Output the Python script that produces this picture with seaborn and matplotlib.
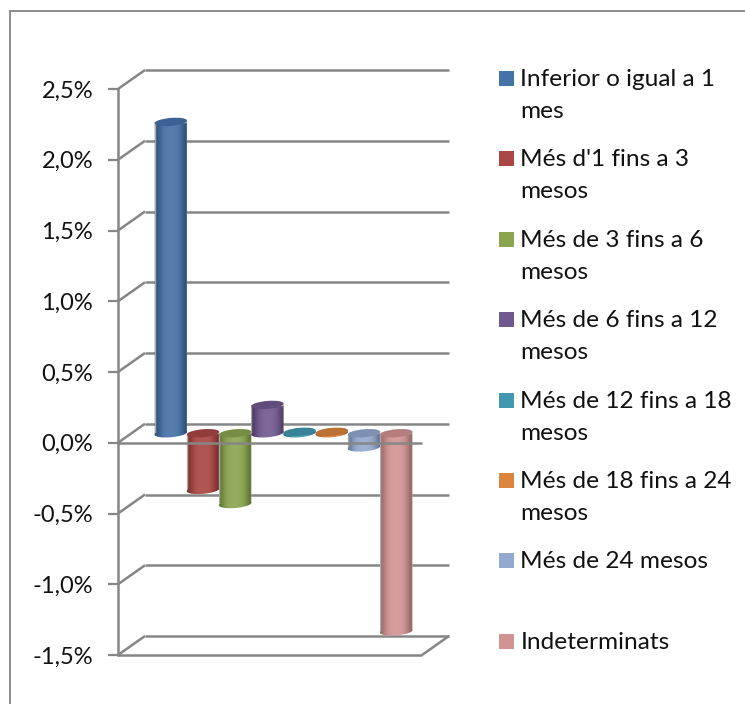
"""Cylinder chart, variation per term bucket (3D look built on a seaborn barplot)."""
import matplotlib
matplotlib.use("Agg")
import matplotlib.pyplot as plt
import numpy as np
import pandas as pd
import seaborn as sns
from matplotlib.collections import EllipseCollection
from matplotlib.lines import Line2D
from matplotlib.patches import PathPatch, Rectangle
from matplotlib.path import Path
from matplotlib.transforms import IdentityTransform, ScaledTranslation

categories = ["Inferior o igual a 1 mes", "Més d'1 fins a 3 mesos", "Més de 3 fins a 6 mesos",
              "Més de 6 fins a 12 mesos", "Més de 12 fins a 18 mesos", "Més de 18 fins a 24 mesos",
              "Més de 24 mesos", "Indeterminats"]
values = [2.2, -0.4, -0.5, 0.2, 0.01, 0.01, -0.1, -1.4]
colors = ["#4572A7", "#AA4643", "#89A54E", "#71588F", "#4198AF", "#DB843D", "#93A9CF", "#D19392"]
tick_values = [-1.5, -1.0, -0.5, 0.0, 0.5, 1.0, 1.5, 2.0, 2.5]
tick_labels = ["-1,5%", "-1,0%", "-0,5%", "0,0%", "0,5%", "1,0%", "1,5%", "2,0%", "2,5%"]
legend_lines = [["Inferior o igual a 1", "mes"], ["Més d'1 fins a 3", "mesos"],
                ["Més de 3 fins a 6", "mesos"], ["Més de 6 fins a 12", "mesos"],
                ["Més de 12 fins a 18", "mesos"], ["Més de 18 fins a 24", "mesos"],
                ["Més de 24 mesos"], ["Indeterminats"]]

W, H = 745, 704
GRID = "#868686"
TICK_FONT = 17
LEGEND_FONT = 17.6
TEXT = "#111111"

sns.set_style("white")
plt.rcParams["font.family"] = ["Lato", "DejaVu Sans"]
fig = plt.figure(figsize=(W / 100, H / 100), dpi=100)
# front plane of the box: x 118-422, y 89-655 in pixels
ax = fig.add_axes([118 / W, 1 - 655 / H, 304 / W, 566 / H])
ax.patch.set_alpha(0)

df = pd.DataFrame({"cat": categories, "val": values})
sns.barplot(data=df, x="cat", y="val", hue="cat", palette=colors, dodge=False, legend=False,
            width=1.0, saturation=1, ax=ax, zorder=3)
ax.set_ylim(-1.5, 2.5)
ax.set_xlim(-0.5 - 0.72, 7.5 + 0.72)
ax.set_xlabel("")
ax.set_ylabel("")
ax.set_xticks([])
ax.set_yticks(tick_values, tick_labels, fontsize=TICK_FONT, color=TEXT)
ax.tick_params(axis="y", length=7, width=1.6, color=GRID, pad=11, left=True)
sns.despine(ax=ax, top=True, right=True, bottom=True)
ax.spines["left"].set_color(GRID)
ax.spines["left"].set_linewidth(1.8)

# depth shifts, in pixels on a 100 dpi figure
px = 1 / 100
back = ax.transData + ScaledTranslation(27 * px, 19 * px, fig.dpi_scale_trans)
mid = ax.transData + ScaledTranslation(13.5 * px, 9.5 * px, fig.dpi_scale_trans)
xl, xr = ax.get_xlim()
grid_kw = dict(color=GRID, lw=1.8, clip_on=False, solid_capstyle="butt")

# back wall and side wall
for v in tick_values:
    ax.plot([xl, xr], [v, v], transform=back, zorder=1, **grid_kw)
    xy = ax.transData.transform([(xl, v), (xl, v)])
    xy[1] += (27, 19)
    ax.plot(xy[:, 0], xy[:, 1], transform=IdentityTransform(), zorder=1, **grid_kw)

# floor
y0 = tick_values[0]
ax.plot([xl, xr], [y0, y0], zorder=6, **grid_kw)
xy = ax.transData.transform([(xr, y0), (xr, y0)])
xy[1] += (27, 19)
ax.plot(xy[:, 0], xy[:, 1], transform=IdentityTransform(), zorder=1, **grid_kw)

# cylinders: bars pushed to mid depth, with shading and end caps
gradient = np.abs(np.linspace(-1, 1, 64)) ** 3
shade = np.zeros((1, 64, 4))
shade[..., 3] = gradient * 0.42
gloss = np.zeros((1, 64, 4))
gloss[..., :3] = 1
gloss[..., 3] = np.clip(1 - gradient * 3, 0, 1) * 0.09

cap_w_px, cap_h_px, cap_angle = 32.4, 8, 5
rad = np.deg2rad(cap_angle)


def cap_outline(cx, cy, t):
    # tilted half ellipse in pixels
    ex = cap_w_px / 2 * np.cos(t)
    ey = cap_h_px / 2 * np.sin(t)
    return np.column_stack([cx + ex * np.cos(rad) - ey * np.sin(rad),
                            cy + ex * np.sin(rad) + ey * np.cos(rad)])


for i, (patch, val, col) in enumerate(zip(ax.patches, values, colors)):
    z = 3 + i * 0.01
    x0, w = patch.get_x(), patch.get_width()
    lo, hi = sorted((0, val))
    patch.set_transform(mid)
    patch.set_clip_on(True)
    patch.set_zorder(z)
    (cx, cy_lo), (_, cy_hi) = mid.transform([(x0 + w / 2, lo), (x0 + w / 2, hi)])
    # full silhouette of the cylinder, used to clip body and shading
    outline = np.vstack([cap_outline(cx, cy_lo, np.linspace(np.pi, 2 * np.pi, 40)),
                         cap_outline(cx, cy_hi, np.linspace(0, np.pi, 40))])
    clip = PathPatch(Path(np.vstack([outline, outline[:1]])), transform=IdentityTransform())
    patch.set_clip_path(clip)
    # the bar rectangle stops at the value, so paint the rounded end below it too
    far_end = EllipseCollection([cap_w_px * 0.72], [cap_h_px * 0.72], [cap_angle], units="points",
                                offsets=[(x0 + w / 2, lo)], offset_transform=mid,
                                facecolors=col, edgecolors="none", zorder=z, clip_on=False)
    ax.add_collection(far_end)
    pad = 0.05
    for img in (shade, gloss):
        im = ax.imshow(img, extent=(x0 - 0.02, x0 + w + 0.02, lo - pad, hi + pad), aspect="auto",
                       transform=mid, zorder=z + 0.001)
        im.set_clip_path(clip)
    cap_color = tuple(np.array(matplotlib.colors.to_rgb(col)) * 0.86)
    near_end = EllipseCollection([cap_w_px * 0.72], [cap_h_px * 0.72], [cap_angle], units="points",
                                 offsets=[(x0 + w / 2, hi)], offset_transform=mid,
                                 facecolors=[cap_color], edgecolors="none",
                                 zorder=z + 0.002, clip_on=False)
    ax.add_collection(near_end)
ax.set_xlim(xl, xr)
ax.set_ylim(-1.5, 2.5)

# front line of the zero level runs over the bars
ax.plot([xl, xr], [0, 0], zorder=6, **grid_kw)

# legend, wrapped by hand like the original
for i, (lines, col) in enumerate(zip(legend_lines, colors)):
    base = 86 + i * 80.4
    fig.add_artist(Rectangle((499 / W, 1 - base / H), 15 / W, 15 / H, transform=fig.transFigure,
                             facecolor=col, edgecolor="none"))
    for j, line in enumerate(lines):
        fig.text(520.5 / W, 1 - (base + j * 32) / H, line, fontsize=LEGEND_FONT, color=TEXT, va="baseline")

# frame: only left and top show in the crop
fig.add_artist(Line2D([10 / W, 10 / W], [0, 1 - 10.5 / H], color="#8c8c8c", lw=1.4))
fig.add_artist(Line2D([10 / W, 1], [1 - 10.5 / H, 1 - 10.5 / H], color="#8c8c8c", lw=1.4))

fig.savefig("out.png", dpi=100)
